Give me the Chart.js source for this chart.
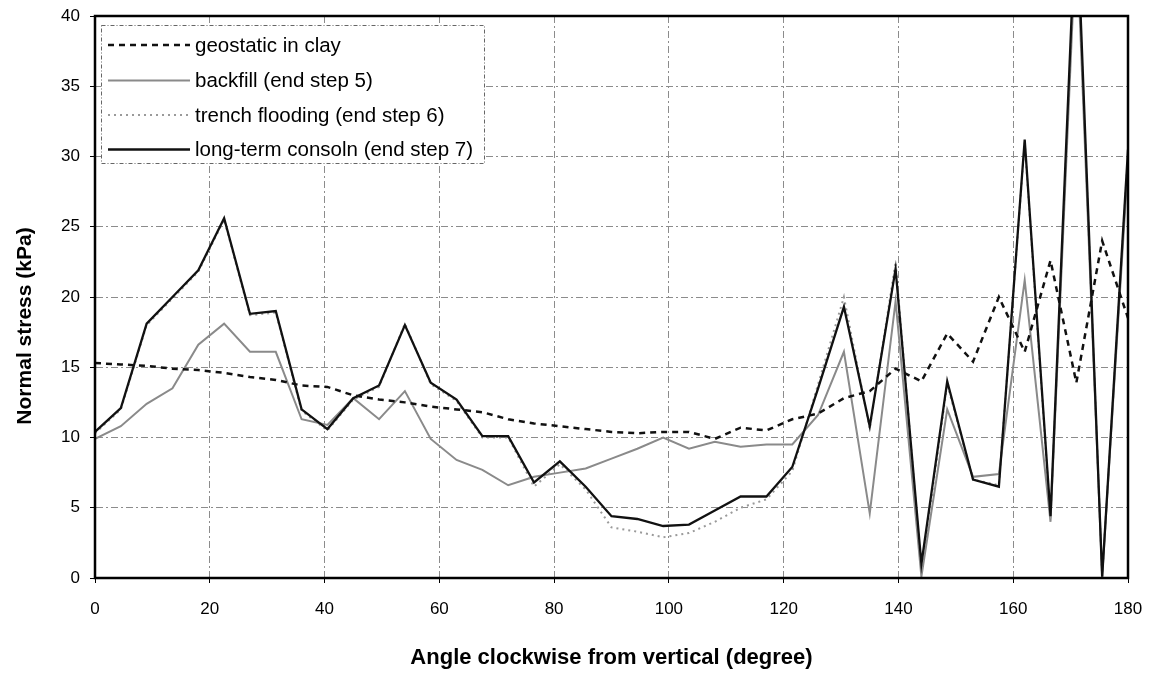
<!DOCTYPE html>
<html><head><meta charset="utf-8">
<script src="https://cdn.jsdelivr.net/npm/chart.js@4.4.1/dist/chart.umd.min.js"></script>
<style>html,body{margin:0;padding:0;background:#fff;} #wrap{width:1153px;height:675px;position:relative;}</style>
</head><body><div id="wrap"><canvas id="c" width="1153" height="675"></canvas></div>
<script>
// ---- data ----
const angles = [0,4.5,9,13.5,18,22.5,27,31.5,36,40.5,45,49.5,54,58.5,63,67.5,72,76.5,81,85.5,90,94.5,99,103.5,108,112.5,117,121.5,126,130.5,135,139.5,144,148.5,153,157.5,162,166.5,171,175.5,180];
const geostatic = [15.3,15.2,15.1,14.9,14.8,14.6,14.3,14.1,13.7,13.6,13.0,12.7,12.5,12.2,12.0,11.8,11.3,11.0,10.8,10.6,10.4,10.3,10.4,10.4,9.9,10.7,10.5,11.3,11.7,12.8,13.3,14.9,14.0,17.4,15.4,20.0,16.1,22.6,13.9,24.0,18.5];
const backfill = [9.9,10.8,12.4,13.5,16.6,18.1,16.1,16.1,11.3,10.9,12.8,11.3,13.3,9.9,8.4,7.7,6.6,7.2,7.5,7.8,8.5,9.2,10.0,9.2,9.7,9.35,9.5,9.5,11.6,16.1,4.6,19.7,0.1,12.0,7.2,7.4,21.2,4.0,46,0.1,29.5];
const trenchFlooding = [10.3,12.0,18.0,19.9,21.8,25.5,18.7,18.9,11.9,10.5,12.7,13.6,18.1,13.8,12.6,10.0,10.0,6.5,8.1,6.3,3.6,3.3,2.9,3.2,4.0,5.0,5.6,7.6,13.8,20.0,10.6,22.5,0.5,13.8,7.0,6.6,31.0,4.2,47,0.1,30.2];
const longTerm = [10.4,12.1,18.1,20.0,21.9,25.6,18.8,19.0,12.0,10.6,12.8,13.7,18.0,13.9,12.7,10.1,10.1,6.8,8.3,6.5,4.4,4.2,3.7,3.8,4.8,5.8,5.8,7.9,13.5,19.3,10.8,22.0,1.0,14.0,7.0,6.5,31.2,4.4,48,0.1,30.5];
const seriesLabels = ['geostatic in clay','backfill (end step 5)','trench flooding (end step 6)','long-term consoln (end step 7)'];
const xTickValues = [0,20,40,60,80,100,120,140,160,180];
const yTickValues = [0,5,10,15,20,25,30,35,40];
const xTitle = 'Angle clockwise from vertical (degree)';
const yTitle = 'Normal stress (kPa)';

const pts = arr => angles.map((a,i)=>({x:a,y:arr[i]}));

const frame = {
  id:'frame',
  afterDatasetsDraw(chart){
    const {ctx, chartArea:a} = chart;
    ctx.save();
    ctx.strokeStyle='#000'; ctx.lineWidth=2.5; ctx.setLineDash([]);
    ctx.strokeRect(a.left, a.top, a.right-a.left, a.bottom-a.top);
    ctx.restore();
  }
};

const yTitlePlugin = {
  id:'yTitlePlugin',
  afterDraw(chart){
    const ctx = chart.ctx;
    ctx.save();
    ctx.translate(25, 326);
    ctx.rotate(-Math.PI/2);
    ctx.fillStyle='#000';
    ctx.font='bold 21px "Liberation Sans", Arial, sans-serif';
    ctx.textAlign='center'; ctx.textBaseline='middle';
    ctx.fillText(yTitle,0,0);
    ctx.restore();
  }
};

const boxLegend = {
  id:'boxLegend',
  afterDraw(chart){
    const ctx = chart.ctx;
    const bx=101, by=25, bw=383, bh=138;
    ctx.save();
    ctx.fillStyle='#fff'; ctx.fillRect(bx,by,bw,bh);
    ctx.strokeStyle='#666'; ctx.lineWidth=1; ctx.setLineDash([4,2,1,2]);
    ctx.strokeRect(bx+0.5,by+0.5,bw,bh);
    const rows=[45,80.5,115,149.5];
    chart.data.datasets.forEach((ds,i)=>{
      const y=rows[i];
      ctx.beginPath();
      ctx.strokeStyle=ds.borderColor; ctx.lineWidth=ds.borderWidth;
      ctx.setLineDash(ds.borderDash||[]);
      ctx.moveTo(108,y); ctx.lineTo(190,y); ctx.stroke();
      ctx.setLineDash([]);
      ctx.fillStyle='#000';
      ctx.font='20.5px "Liberation Sans", Arial, sans-serif';
      ctx.textBaseline='middle'; ctx.textAlign='left';
      ctx.fillText(ds.label,195,y+1);
    });
    ctx.restore();
  }
};

new Chart(document.getElementById('c'),{
  type:'line',
  data:{datasets:[
    {label:seriesLabels[0],data:pts(geostatic),borderColor:'#111',borderWidth:2.5,borderDash:[6,5],order:1},
    {label:seriesLabels[1],data:pts(backfill),borderColor:'#8a8a8a',borderWidth:2,order:3},
    {label:seriesLabels[2],data:pts(trenchFlooding),borderColor:'#9a9a9a',borderWidth:2,borderDash:[2,4],order:2},
    {label:seriesLabels[3],data:pts(longTerm),borderColor:'#111',borderWidth:2.3,order:0}
  ]},
  options:{
    responsive:false, animation:false,
    layout:{padding:{top:16,right:25,left:0,bottom:0}},
    elements:{point:{radius:0},line:{tension:0}},
    plugins:{legend:{display:false},tooltip:{enabled:false}},
    scales:{
      x:{type:'linear',min:0,max:180,
        afterBuildTicks:s=>{s.ticks=xTickValues.map(v=>({value:v}));},
        afterFit:s=>{s.height=97;s.paddingLeft=0;s.paddingRight=0;},
        ticks:{color:'#000',padding:16,maxRotation:0,font:{size:17,family:'"Liberation Sans Narrow","Liberation Sans",Arial'}},
        grid:{color:'#8c8c8c',lineWidth:1,tickLength:5,tickColor:'#000'},
        border:{display:true,color:'#000',width:2,dash:[7,3,2,3]},
        title:{display:true,text:xTitle,color:'#000',font:{size:22,weight:'bold',family:'"Liberation Sans",Arial'},padding:{top:0,bottom:4}}
      },
      y:{min:0,max:40,
        afterBuildTicks:s=>{s.ticks=yTickValues.map(v=>({value:v}));},
        afterFit:s=>{s.width=95;s.paddingTop=0;s.paddingBottom=0;},
        ticks:{color:'#000',padding:10,font:{size:17,family:'"Liberation Sans",Arial'}},
        grid:{color:'#8c8c8c',lineWidth:1,tickLength:5,tickColor:'#000'},
        border:{display:true,color:'#000',width:2,dash:[7,3,2,3]},
        title:{display:false}
      }
    }
  },
  plugins:[frame,boxLegend,yTitlePlugin]
});
</script></body></html>
